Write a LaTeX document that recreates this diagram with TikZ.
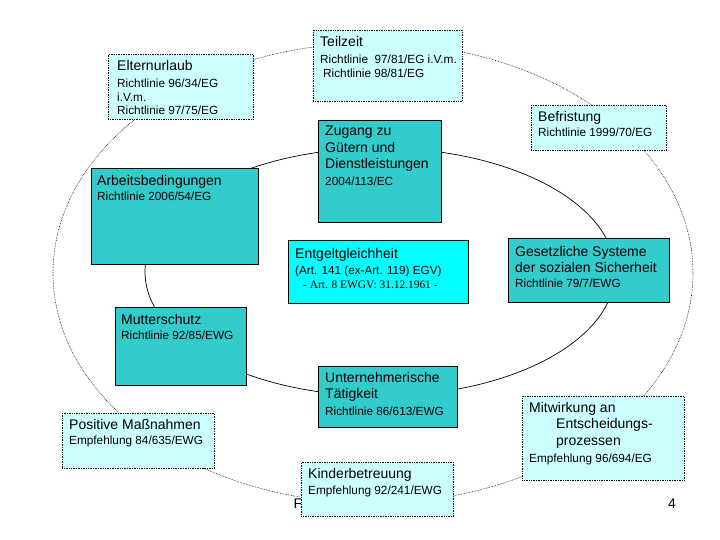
\documentclass[tikz,border=0pt]{standalone}
\usepackage{fontspec}
\setmainfont{Liberation Sans}
\newfontfamily\timesfont{Liberation Serif}
\newcommand\hdfont{\fontsize{14}{16.5}\selectfont}
\newcommand\smfont{\fontsize{11.8}{14}\selectfont}
\definecolor{boxteal}{HTML}{33CCCC}
\definecolor{boxlight}{HTML}{CCFFFF}
\definecolor{boxcyan}{HTML}{00FFFF}

\begin{document}
\begin{tikzpicture}[x=1pt, y=-1pt,
  dark/.style={draw, line width=0.8pt, fill=boxteal, anchor=north west, inner sep=0},
  light/.style={draw, densely dotted, line width=0.7pt, fill=boxlight, anchor=north west, inner sep=0},
  txt/.style={anchor=north west, align=left, inner sep=0, font=\hdfont}
]
\useasboundingbox (0,0) rectangle (720,540);

% the two cycles
\draw[densely dotted, line width=0.6pt] (373,273) ellipse [x radius=320pt, y radius=230pt];
\draw[line width=0.7pt] (380,272) ellipse [x radius=235pt, y radius=124pt];

% footer
\node[font=\hdfont] (footF) at (298,504) {F};
\node[font=\hdfont] (page) at (672,504) {4};

% outer ring: recommendations and directives
\node[light, minimum width=145pt, minimum height=65pt] (eltern) at (108,54) {};
\node[txt] (elternT) at ([shift={(9,6)}]eltern.north west)
  {Elternurlaub\\[1pt]\smfont Richtlinie 96/34/EG\\[-3pt]\smfont i.V.m.\\[-3pt]\smfont Richtlinie 97/75/EG};

\node[light, minimum width=149pt, minimum height=71pt] (teil) at (313,30) {};
\node[txt] (teilT) at ([shift={(7,6)}]teil.north west)
  {Teilzeit\\[0.5pt]\smfont Richtlinie\ \ 97/81/EG i.V.m.\\[-2.5pt]\smfont\hspace*{3pt}Richtlinie 98/81/EG};

\node[light, minimum width=135pt, minimum height=45pt] (befr) at (531,105) {};
\node[txt] (befrT) at ([shift={(7,6)}]befr.north west)
  {Befristung\\[-1pt]\smfont Richtlinie 1999/70/EG};

\node[light, minimum width=152pt, minimum height=55pt] (posit) at (62,413) {};
\node[txt] (positT) at ([shift={(7,6)}]posit.north west)
  {Positive Maßnahmen\\[-1pt]\smfont Empfehlung 84/635/EWG};

\node[light, minimum width=152pt, minimum height=54pt] (kinder) at (301,462) {};
\node[txt] (kinderT) at ([shift={(7,6)}]kinder.north west)
  {Kinderbetreuung\\[0pt]\smfont Empfehlung 92/241/EWG};

\node[light, minimum width=162pt, minimum height=84pt] (mitw) at (522,396) {};
\node[txt] (mitwT) at ([shift={(7,6)}]mitw.north west)
  {Mitwirkung an\\\hspace*{27pt}Entscheidungs-\\\hspace*{27pt}prozessen\\[0.5pt]\smfont Empfehlung 96/694/EG};

% inner ring: directives
\node[dark, minimum width=167pt, minimum height=96pt] (arb) at (91,168) {};
\node[txt] (arbT) at ([shift={(6,7)}]arb.north west)
  {Arbeitsbedingungen\\[-1pt]\smfont Richtlinie 2006/54/EG};

\node[dark, minimum width=123pt, minimum height=102pt] (zug) at (318,120) {};
\node[txt] (zugT) at ([shift={(7,6)}]zug.north west)
  {Zugang zu\\Gütern und\\Dienstleistungen\\[0.5pt]\smfont 2004/113/EC};

\node[dark, minimum width=131pt, minimum height=78pt] (mutter) at (115,307) {};
\node[txt] (mutterT) at ([shift={(6,7)}]mutter.north west)
  {Mutterschutz\\[-1pt]\smfont Richtlinie 92/85/EWG};

\node[dark, minimum width=161pt, minimum height=64pt] (gesetz) at (508,238) {};
\node[txt] (gesetzT) at ([shift={(7,8)}]gesetz.north west)
  {Gesetzliche Systeme\\der sozialen Sicherheit\\[-2pt]\smfont Richtlinie 79/7/EWG};

\node[dark, minimum width=139pt, minimum height=61pt] (untern) at (318,366) {};
\node[txt] (unternT) at ([shift={(7,6)}]untern.north west)
  {Unternehmerische\\Tätigkeit\\[0.5pt]\smfont Richtlinie 86/613/EWG};

% centre
\node[dark, fill=boxcyan, minimum width=180pt, minimum height=63pt] (entg) at (288,240) {};
\node[txt] (entgT) at ([shift={(7,8)}]entg.north west)
  {Entgeltgleichheit\\[-0.5pt]\fontsize{11.7}{14}\selectfont (Art. 141 (ex-Art. 119) EGV)\\[-2.5pt]\timesfont\fontsize{11.4}{14}\selectfont\hspace*{8pt}- Art. 8 EWGV: 31.12.1961 -};
\end{tikzpicture}
\end{document}
